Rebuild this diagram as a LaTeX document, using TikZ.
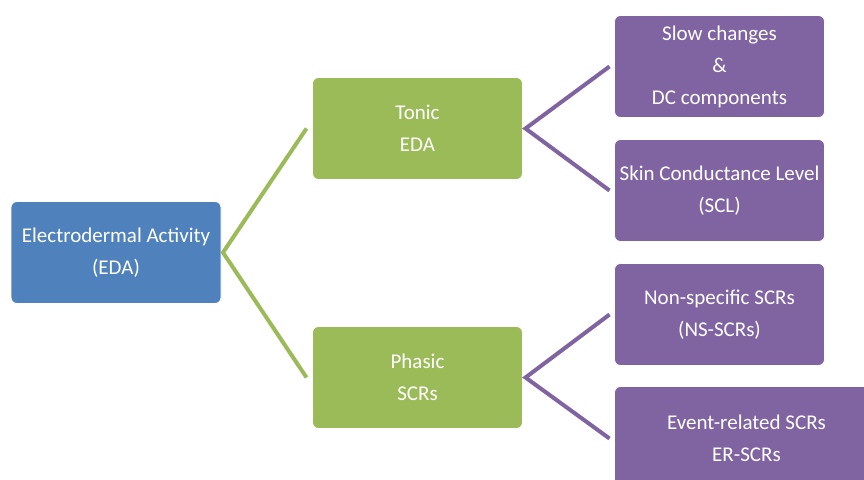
\documentclass[tikz,border=0pt]{standalone}
\usepackage{fontspec}
\setmainfont{Carlito}
\usetikzlibrary{positioning}
\definecolor{edablue}{HTML}{4F81BD}
\definecolor{edagreen}{HTML}{9BBB59}
\definecolor{edapurple}{HTML}{8064A2}
\tikzset{
	box/.style={
		rounded corners=6pt,
		draw=white,
		line width=0.8pt,
		text=white,
		align=center,
		font={\fontsize{21}{32}\selectfont},
		minimum width=210pt,
		minimum height=102pt,
		inner sep=0pt,
		outer sep=0pt
	},
	root/.style={box, fill=edablue},
	branch/.style={box, fill=edagreen},
	leaf/.style={box, fill=edapurple},
	greenlink/.style={draw=edagreen, line width=4pt},
	purplelink/.style={draw=edapurple, line width=4pt}
}

\begin{document}
\begin{tikzpicture}[x=1pt, y=1pt]
\clip (0,0) rectangle (864,-479);

\node(eda)[root] at (116,-252.5) {Electrodermal Activity\\(EDA)};

\node(tonic)[branch] at (417.5,-128.5) {Tonic\\EDA};
\node(phasic)[branch, below=147pt of tonic]{Phasic\\SCRs};

\node(slow)[leaf] at (719.5,-66.5) {Slow changes\\\&\\DC components};
\node(scl)[leaf, below=22pt of slow]{Skin Conductance Level\\(SCL)};
\node(ns)[leaf, below=22pt of scl]{Non-specific SCRs\\(NS-SCRs)};
\node(er)[leaf, below=21pt of ns.south west, anchor=north west, minimum width=264pt, minimum height=104pt]{Event-related SCRs\\ER-SCRs};

\draw[greenlink] ([xshift=-6pt]tonic.west) -- ([xshift=2pt]eda.east) -- ([xshift=-6pt]phasic.west);
\draw[purplelink] ([xshift=-5pt]slow.west) -- ([xshift=3pt]tonic.east) -- ([xshift=-5pt]scl.west);
\draw[purplelink] ([xshift=-5pt]ns.west) -- ([xshift=3pt]phasic.east) -- ([xshift=-5pt]er.west);

\end{tikzpicture}
\end{document}
